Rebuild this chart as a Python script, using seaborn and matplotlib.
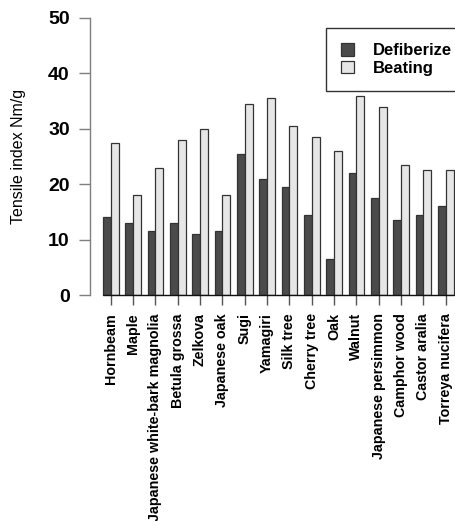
import matplotlib
matplotlib.use("Agg")
import matplotlib.pyplot as plt
import seaborn as sns
import pandas as pd

species = ["Hornbeam", "Maple", "Japanese white-bark magnolia", "Betula grossa",
           "Zelkova", "Japanese oak", "Sugi", "Yamagiri", "Silk tree",
           "Cherry tree", "Oak", "Walnut", "Japanese persimmon", "Camphor wood",
           "Castor aralia", "Torreya nucifera"]
defiberize = [14.0, 13.0, 11.5, 13.0, 11.0, 11.5, 25.5, 21.0, 19.5, 14.5, 6.5,
              22.0, 17.5, 13.5, 14.5, 16.0]
beating = [27.5, 18.0, 23.0, 28.0, 30.0, 18.0, 34.5, 35.5, 30.5, 28.5, 26.0,
           36.0, 34.0, 23.5, 22.5, 22.5]
methods = ["Defiberize", "Beating"]
yticks = [0, 10, 20, 30, 40, 50]

df = pd.DataFrame({
    "species": species * 2,
    "value": defiberize + beating,
    "method": [methods[0]] * len(species) + [methods[1]] * len(species),
})

sns.set_style("white")
plt.rcParams["font.family"] = ["Liberation Sans", "DejaVu Sans"]
plt.rcParams["text.color"] = "black"
plt.rcParams["axes.labelcolor"] = "black"
plt.rcParams["xtick.labelcolor"] = "black"
plt.rcParams["ytick.labelcolor"] = "black"

W, H = 456, 521
fig = plt.figure(figsize=(W / 100, H / 100), dpi=100)
left_px, right_px, top_px, bot_px = 90, 456, 18, 295
ax = fig.add_axes([left_px / W, 1 - bot_px / H, (right_px - left_px) / W, (bot_px - top_px) / H])

sns.barplot(data=df, x="species", y="value", hue="method", order=species,
            hue_order=methods, palette=["#4b4b4b", "#e6e6e6"], width=0.7,
            edgecolor="#333333", linewidth=0.9, ax=ax, legend=True)

# x-range: spine at 90px, first group centre at ~110.7 px, spacing 22.33 px
sp = 22.33
ax.set_xlim(-(110.7 - left_px) / sp, 15 + (right_px - 445.7) / sp)
ax.set_ylim(0, 50)
ax.set_yticks(yticks)
ax.set_yticklabels([str(t) for t in yticks], fontsize=14, fontweight="bold", color="black")
ax.set_xticks(range(len(species)))
ax.set_xticklabels(species, rotation=90, fontsize=10.3, fontweight="bold", color="black")

for s in ["top", "right", "bottom"]:
    ax.spines[s].set_visible(False)
ax.spines["left"].set_color("#7f7f7f")
ax.spines["left"].set_linewidth(1.0)
ax.tick_params(axis="y", length=7.6, width=1.0, color="#7f7f7f", pad=7, left=True)
ax.tick_params(axis="x", length=7, width=1.0, color="#555555", pad=6, bottom=True)

# baseline under bars
ax.plot([-0.35, 15.35], [0, 0], color="#111111", lw=1.0, clip_on=False)

ax.set_xlabel("")
ax.set_ylabel("Tensile index Nm/g", fontsize=11.5, color="black")
ax.yaxis.set_label_coords((26 - left_px) / (right_px - left_px), 0.5)

handles, labels = ax.get_legend_handles_labels()
leg = ax.legend(handles, labels, loc="upper left",
                bbox_to_anchor=(326 / W, 1 - 28 / H), bbox_transform=fig.transFigure,
                prop={"size": 12, "weight": "bold"}, frameon=True, fancybox=False,
                edgecolor="black", handlelength=0.8, handleheight=0.8,
                handletextpad=1.1, labelspacing=0.15, borderpad=0.9, borderaxespad=0,
                labelcolor="black")
leg.get_frame().set_linewidth(1.0)

fig.savefig("out.png", dpi=100)
